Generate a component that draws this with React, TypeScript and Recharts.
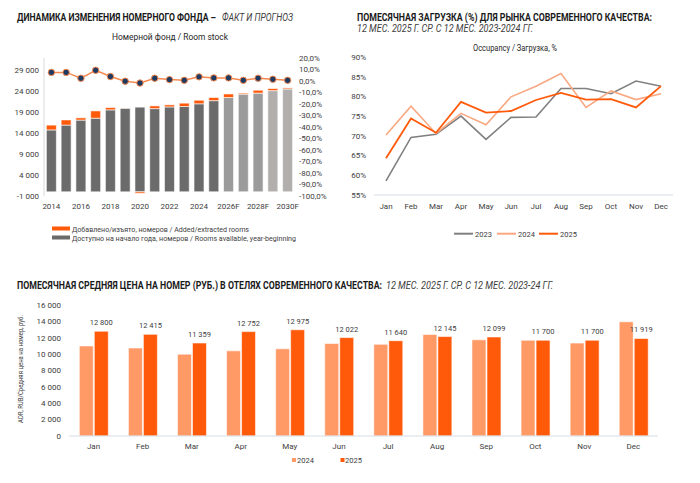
import React from "react";
import {
  ComposedChart,
  LineChart,
  BarChart,
  Bar,
  Line,
  XAxis,
  YAxis,
  Cell,
  LabelList,
} from "recharts";

const FONT = "Roboto, 'Noto Sans', sans-serif";
const TXT = "#404040";

// room stock, fact & forecast
const years = [
  "2014", "2015", "2016", "2017", "2018", "2019", "2020", "2021", "2022",
  "2023", "2024", "2025", "2026F", "2027F", "2028F", "2029F", "2030F",
];
const roomsAvailable = [
  14800, 15950, 17150, 17600, 19600, 20000, 20250, 19900, 20300, 20400, 21050,
  21800, 22550, 23350, 23600, 24200, 24600,
];
const roomsAdded = [
  1150, 1250, 550, 1750, 550, 50, -350, 650, 500, 800, 850, 750, 850, 250, 700,
  500, 250,
];
const stockGrowth = [
  7.5, 7.5, 2.4, 9.3, 3.9, -0.2, -1.8, 2.4, 1.2, 0.6, 3.6, 2.7, 2.7, 0.6, 2.4,
  1.5, 0.6,
];
const stockTicks = [-1000, 4000, 9000, 14000, 19000, 24000, 29000];
const growthTicks = [-100, -90, -80, -70, -60, -50, -40, -30, -20, -10, 0, 10, 20];

// occupancy, %
const months = ["Jan", "Feb", "Mar", "Apr", "May", "Jun", "Jul", "Aug", "Sep", "Oct", "Nov", "Dec"];
const occ2023 = [58.6, 69.6, 70.4, 75.0, 69.1, 74.7, 74.8, 82.0, 82.0, 80.7, 83.9, 82.6];
const occ2024 = [70.2, 77.5, 70.6, 75.7, 72.8, 79.9, 82.6, 85.8, 77.2, 81.4, 79.2, 80.7];
const occ2025 = [64.3, 74.4, 70.8, 78.6, 75.9, 76.3, 79.1, 80.9, 79.2, 79.3, 77.2, 82.6];
const occTicks = [55, 60, 65, 70, 75, 80, 85, 90];

// ADR, rub
const adr2024 = [11000, 10750, 10000, 10400, 10650, 11300, 11200, 12400, 11750, 11700, 11350, 13950];
const adr2025 = [12800, 12415, 11359, 12752, 12975, 12022, 11640, 12145, 12099, 11700, 11700, 11919];
const adrTicks = [0, 2000, 4000, 6000, 8000, 10000, 12000, 14000, 16000];

// non-breaking space so recharts doesn't wrap "29 000"
const fmtNum = (v: number) =>
  (v < 0 ? "-" : "") + Math.abs(v).toString().replace(/\B(?=(\d{3})+(?!\d))/g, "\u00a0");
const fmtPct = (v: number) => (v * 100).toFixed(1).replace(".", ",") + "%";

const greyFor = (i: number) => (i >= 15 ? "#b2aeae" : i >= 12 ? "#9b9b9b" : "#6b6b6b");

const stockData = years.map((year, i) => ({
  year,
  available: roomsAvailable[i],
  added: roomsAdded[i],
  growth: stockGrowth[i] / 100,
}));
const occData = months.map((m, i) => ({ m, y2023: occ2023[i], y2024: occ2024[i], y2025: occ2025[i] }));
const adrData = months.map((m, i) => ({ m, y2024: adr2024[i], y2025: adr2025[i] }));

const tick = { fontSize: 8, fill: TXT, fontFamily: FONT };

// condensed heading text: squeezed horizontally to a fixed width
const SQ = 0.8;
const Heading: React.FC<{ x: number; y: number; w: number; italic?: boolean; children: string }> = ({
  x,
  y,
  w,
  italic,
  children,
}) => (
  <text
    transform={`translate(${x} ${y}) scale(${SQ} 1)`}
    fontSize={10}
    fontWeight={italic ? 400 : 700}
    fontStyle={italic ? "italic" : "normal"}
    fill={italic ? TXT : "#1a1a1a"}
    textLength={w / SQ}
    lengthAdjust="spacingAndGlyphs"
  >
    {children}
  </text>
);

const Overlay: React.FC = () => (
  <svg
    width={700}
    height={483}
    style={{ position: "absolute", left: 0, top: 0, pointerEvents: "none" }}
    fontFamily={FONT}
  >
    {/* chart 1 */}
    <Heading x={17} y={20.5} w={199}>ДИНАМИКА ИЗМЕНЕНИЯ НОМЕРНОГО ФОНДА –</Heading>
    <Heading x={222} y={20.5} w={71} italic>ФАКТ И ПРОГНОЗ</Heading>
    <text x={112} y={40} fontSize={8.5} fill="#262626" textLength={116} lengthAdjust="spacingAndGlyphs">
      Номерной фонд / Room stock
    </text>
    <rect x={52} y={226.5} width={18} height={4} fill="#ff5a0a" />
    <text x={72} y={231.5} fontSize={8} fill={TXT} textLength={177} lengthAdjust="spacingAndGlyphs">
      Добавлено/изъято, номеров / Added/extracted rooms
    </text>
    <rect x={52} y={235.5} width={18} height={4} fill="#6b6b6b" />
    <text x={72} y={240.5} fontSize={8} fill={TXT} textLength={224} lengthAdjust="spacingAndGlyphs">
      Доступно на начало года, номеров / Rooms available, year-beginning
    </text>

    {/* chart 2 */}
    <Heading x={357} y={20.5} w={295}>ПОМЕСЯЧНАЯ ЗАГРУЗКА (%) ДЛЯ РЫНКА СОВРЕМЕННОГО КАЧЕСТВА:</Heading>
    <Heading x={357} y={32.3} w={176} italic>12 МЕС. 2025 Г. СР. С 12 МЕС. 2023-2024 ГГ.</Heading>
    <text x={473} y={51} fontSize={8.5} fill="#262626" textLength={84} lengthAdjust="spacingAndGlyphs">
      Occupancy / Загрузка, %
    </text>
    <line x1={454} x2={473} y1={233.7} y2={233.7} stroke="#808080" strokeWidth={2} />
    <text x={475} y={236.5} fontSize={7.5} fill={TXT}>2023</text>
    <line x1={497} x2={516} y1={233.7} y2={233.7} stroke="#f9a882" strokeWidth={2} />
    <text x={518} y={236.5} fontSize={7.5} fill={TXT}>2024</text>
    <line x1={539} x2={558} y1={233.7} y2={233.7} stroke="#ff5a0a" strokeWidth={2} />
    <text x={560} y={236.5} fontSize={7.5} fill={TXT}>2025</text>

    {/* chart 3 */}
    <Heading x={17} y={288.5} w={365}>
      ПОМЕСЯЧНАЯ СРЕДНЯЯ ЦЕНА НА НОМЕР (РУБ.) В ОТЕЛЯХ СОВРЕМЕННОГО КАЧЕСТВА:
    </Heading>
    <Heading x={386} y={288.5} w={167} italic>12 МЕС. 2025 Г. СР. С 12 МЕС. 2023-24 ГГ.</Heading>
    <text
      x={0}
      y={0}
      fontSize={6.5}
      fill={TXT}
      textAnchor="middle"
      transform="translate(22.5 369) rotate(-90)"
      textLength={108}
      lengthAdjust="spacingAndGlyphs"
    >
      ADR, RUB/Средняя цена на номер, руб.
    </text>
    <rect x={292} y={458} width={4} height={4} fill="#ff9966" />
    <text x={297} y={463} fontSize={7.5} fill={TXT}>2024</text>
    <rect x={340.5} y={458} width={4} height={4} fill="#ff5a0a" />
    <text x={345} y={463} fontSize={7.5} fill={TXT}>2025</text>
  </svg>
);

const App: React.FC = () => (
  <div style={{ position: "absolute", left: 0, top: 0, width: 700, height: 483, background: "#fff", fontFamily: FONT }}>
    <div style={{ position: "absolute", left: 0, top: 0 }}>
      <ComposedChart
        width={345}
        height={216}
        data={stockData}
        margin={{ top: 58, right: 0, bottom: 0, left: 0 }}
        stackOffset="sign"
        barCategoryGap="16%"
      >
        <XAxis dataKey="year" interval={1} axisLine={false} tickLine={false} tickSize={0} tickMargin={7} height={20} tick={tick} />
        <YAxis
          yAxisId="l"
          width={44}
          domain={[-1000, 32000]}
          ticks={stockTicks}
          interval={0}
          tickFormatter={fmtNum}
          axisLine={{ stroke: "#d9d9d9" }}
          tickLine={false}
          tickSize={0}
          tickMargin={5}
          tick={tick}
        />
        <YAxis
          yAxisId="r"
          orientation="right"
          width={50}
          domain={[-1, 0.2]}
          ticks={growthTicks.map((v) => v / 100)}
          interval={0}
          tickFormatter={fmtPct}
          axisLine={false}
          tickLine={false}
          tickSize={0}
          tickMargin={4}
          tick={tick}
        />
        <Bar yAxisId="l" dataKey="available" stackId="s" stroke="#fff" strokeWidth={0.6} isAnimationActive={false}>
          {stockData.map((d, i) => (
            <Cell key={d.year} fill={greyFor(i)} />
          ))}
        </Bar>
        <Bar yAxisId="l" dataKey="added" stackId="s" fill="#ff5a0a" stroke="#fff" strokeWidth={0.6} isAnimationActive={false} />
        <Line
          yAxisId="r"
          dataKey="growth"
          stroke="#f7894f"
          strokeWidth={1.5}
          dot={{ r: 3.2, fill: "#1f3a60", stroke: "#f7894f", strokeWidth: 1 }}
          isAnimationActive={false}
        />
      </ComposedChart>
    </div>

    <div style={{ position: "absolute", left: 340, top: 0 }}>
      <LineChart width={340} height={215} data={occData} margin={{ top: 57, right: 7, bottom: 0, left: 0 }}>
        <XAxis
          dataKey="m"
          padding={{ left: 12, right: 12 }}
          axisLine={{ stroke: "#d6dce4" }}
          tickLine={false}
          tickSize={0}
          tickMargin={8}
          height={20}
          tick={tick}
        />
        <YAxis
          width={34}
          domain={[55, 90]}
          ticks={occTicks}
          interval={0}
          tickFormatter={(v: number) => `${v}%`}
          axisLine={false}
          tickLine={false}
          tickSize={0}
          tickMargin={8}
          tick={tick}
        />
        <Line dataKey="y2023" stroke="#808080" strokeWidth={1.6} dot={false} isAnimationActive={false} />
        <Line dataKey="y2024" stroke="#f9a882" strokeWidth={1.6} dot={false} isAnimationActive={false} />
        <Line dataKey="y2025" stroke="#ff5a0a" strokeWidth={1.8} dot={false} isAnimationActive={false} />
      </LineChart>
    </div>

    <div style={{ position: "absolute", left: 0, top: 290 }}>
      <BarChart
        width={700}
        height={166}
        data={adrData}
        margin={{ top: 15, right: 42, bottom: 0, left: 0 }}
        barCategoryGap="21%"
        barGap={1}
      >
        <XAxis dataKey="m" axisLine={{ stroke: "#d6dce4" }} tickLine={false} tickSize={0} tickMargin={7} height={20} tick={tick} />
        <YAxis
          width={69}
          domain={[0, 16000]}
          ticks={adrTicks}
          interval={0}
          tickFormatter={fmtNum}
          axisLine={false}
          tickLine={false}
          tickSize={0}
          tickMargin={8}
          tick={tick}
        />
        <Bar dataKey="y2024" fill="#ff9966" stroke="#fff" strokeWidth={0.6} isAnimationActive={false} />
        <Bar dataKey="y2025" fill="#ff5a0a" stroke="#fff" strokeWidth={0.6} isAnimationActive={false}>
          <LabelList
            dataKey="y2025"
            position="top"
            offset={6}
            formatter={(v: number) => fmtNum(v)}
            style={{ fontSize: 7.5, fill: TXT, fontFamily: FONT }}
          />
        </Bar>
      </BarChart>
    </div>

    <Overlay />
  </div>
);

export default App;
